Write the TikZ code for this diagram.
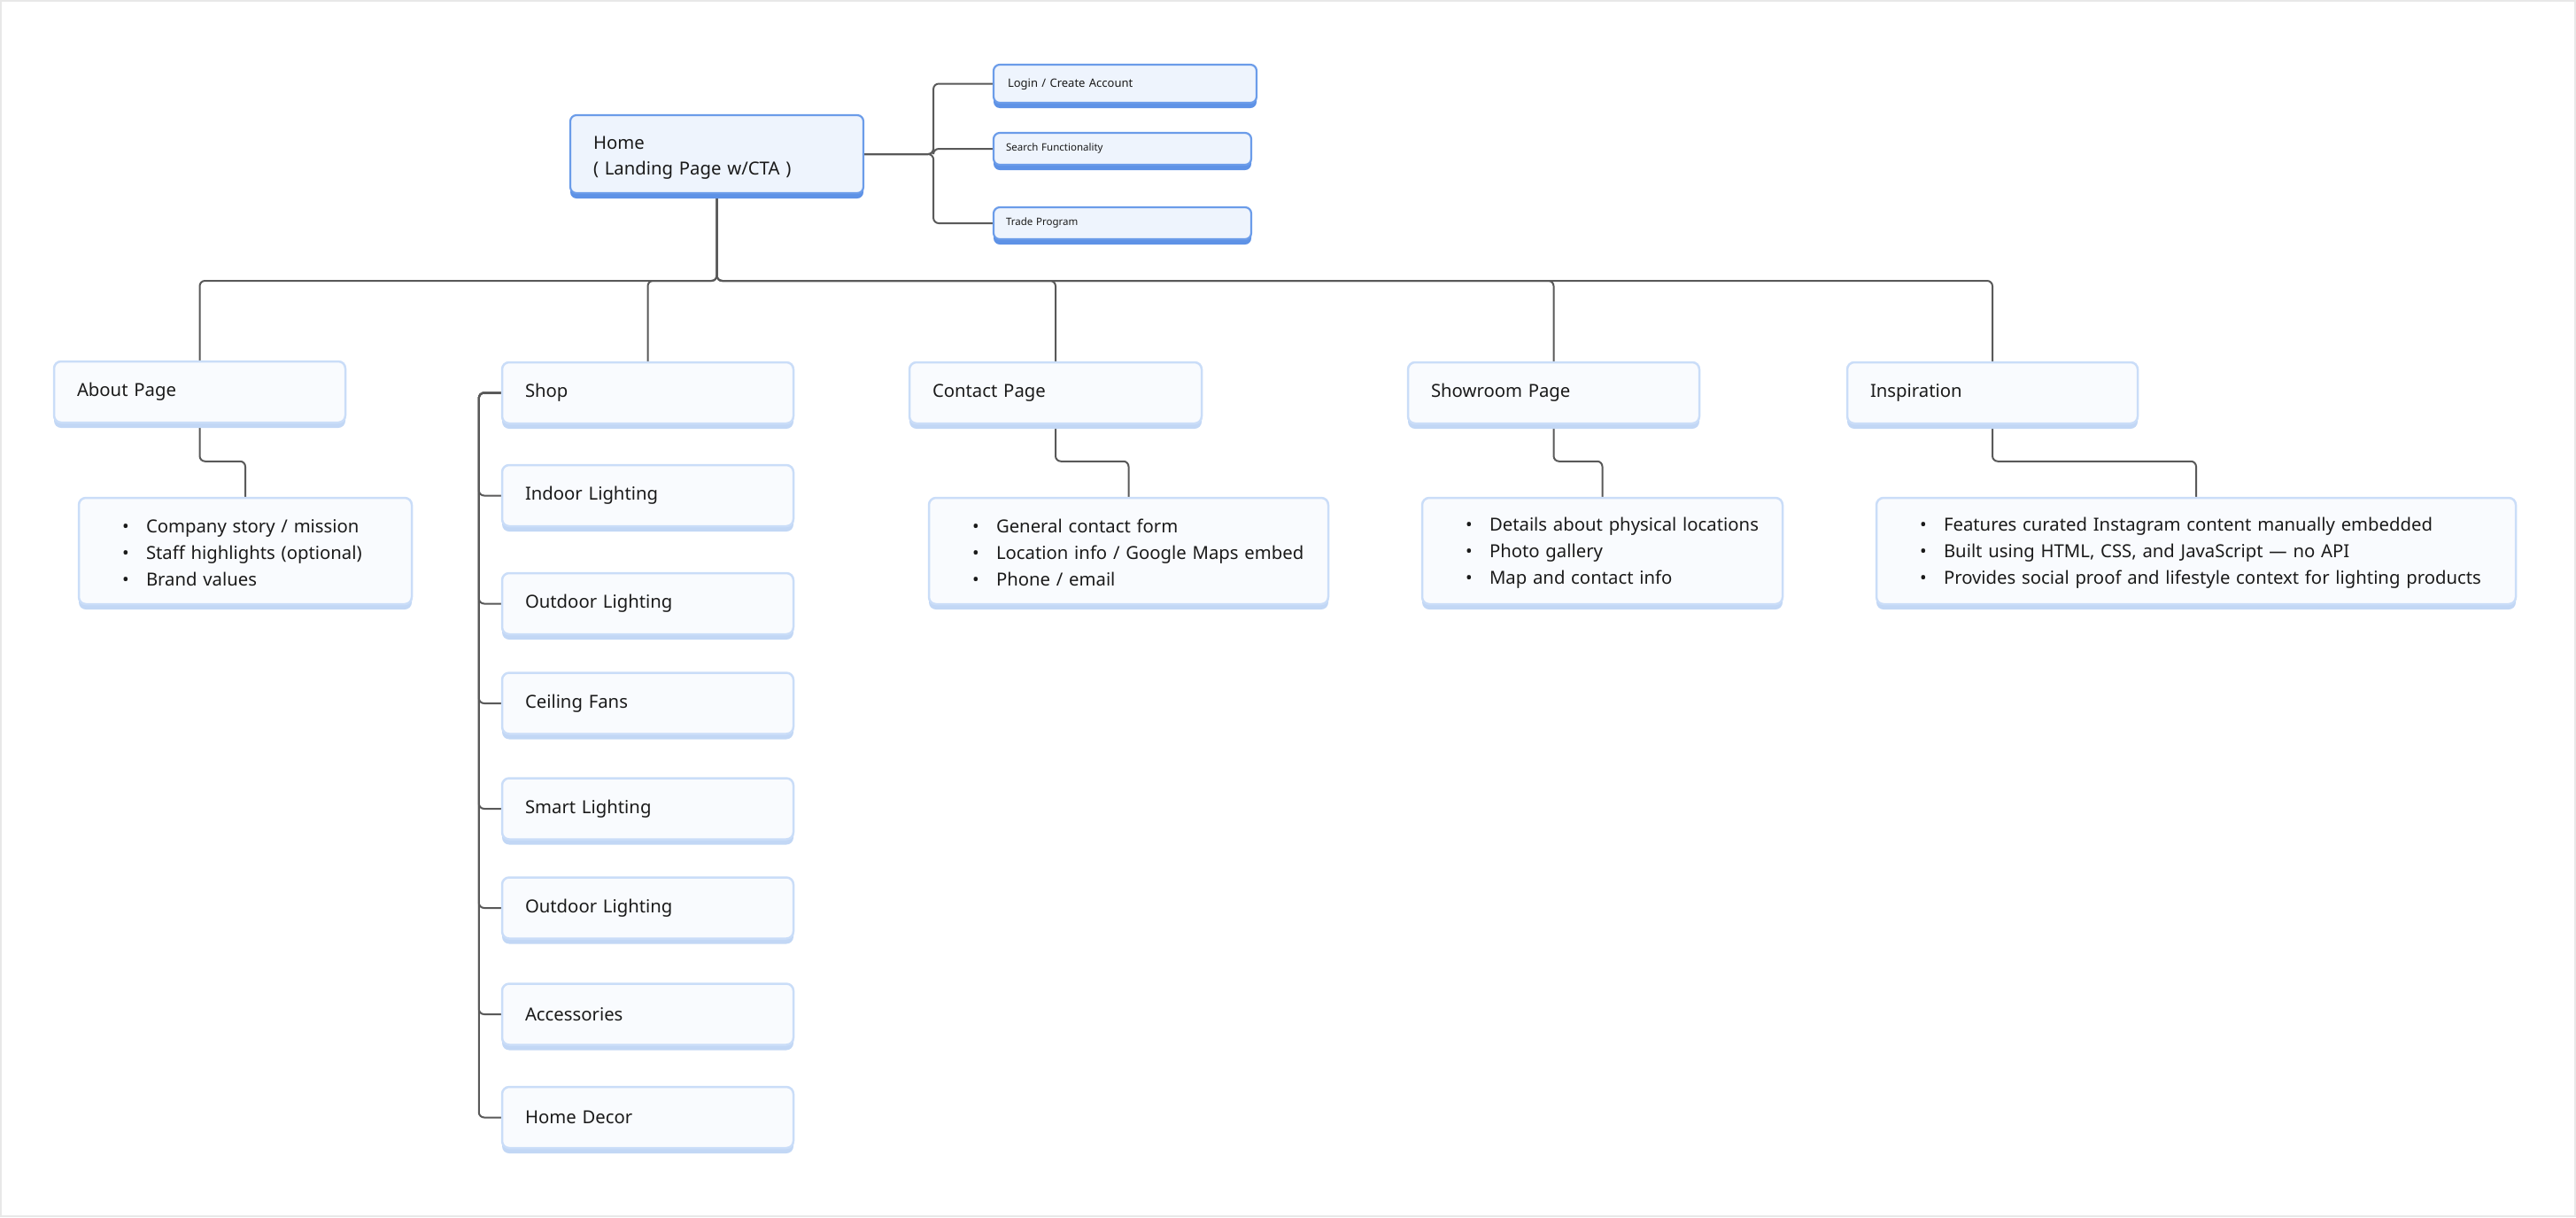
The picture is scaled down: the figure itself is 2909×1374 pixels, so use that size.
\documentclass[tikz,border=0pt]{standalone}
\usepackage{fontspec}
\setmainfont{Noto Sans}
\usetikzlibrary{shadows,calc}
\definecolor{lfill}{HTML}{F9FBFE}
\definecolor{lborder}{HTML}{CADDF8}
\definecolor{lband}{HTML}{C2D7F5}
\definecolor{hfill}{HTML}{EEF4FD}
\definecolor{hborder}{HTML}{6B9CE9}
\definecolor{hband}{HTML}{5E92E6}
\definecolor{txt}{HTML}{1A1A1A}
\definecolor{connc}{HTML}{595959}
\definecolor{pageframe}{HTML}{E8E8E8}
\pgfdeclarelayer{bg}
\pgfsetlayers{bg,main}
\newcommand\bitem[1]{\mbox{\makebox[27pt][l]{•}#1}}
\begin{document}
\begin{tikzpicture}[x=1pt,y=-1pt,
  lbox/.style={draw=lborder, fill=lfill, line width=2.5pt, rounded corners=8pt,
    general shadow={fill=lband, shadow yshift=-6pt},
    inner xsep=26pt, inner ysep=0pt, align=left, text=txt,
    font=\fontsize{20.3pt}{28pt}\selectfont, minimum height=69pt},
  hbox/.style={draw=hborder, fill=hfill, line width=2.2pt, rounded corners=7pt,
    general shadow={fill=hband, shadow yshift=-6pt},
    inner ysep=0pt, align=left, text=txt},
  dbox/.style={lbox, inner xsep=49pt, minimum height=120pt,
    font=\fontsize{20.3pt}{30pt}\selectfont},
  conn/.style={draw=connc, line width=2pt, rounded corners=6pt}
]
\useasboundingbox (0,0) rectangle (2909,1374);
\draw[pageframe, line width=1.5pt] (1,1) rectangle (2908,1373);

% top
\node[hbox, inner xsep=26pt, minimum width=331pt, minimum height=88pt, text width=279pt,
  font=\fontsize{20.3pt}{29pt}\selectfont] (home) at (809.5,174) {\rule{0pt}{23pt}Home\\( Landing Page w/CTA )};
\node[hbox, inner xsep=16pt, minimum width=297pt, minimum height=43pt, text width=265pt,
  font=\fontsize{13pt}{16pt}\selectfont] (login) at (1270.5,94.5) {\rule{0pt}{11pt}Login / Create Account};
\node[hbox, inner xsep=14pt, minimum width=291pt, minimum height=36pt, text width=263pt,
  font=\fontsize{11.5pt}{14pt}\selectfont] (search) at (1267.5,168) {Search Functionality};
\node[hbox, inner xsep=14pt, minimum width=291pt, minimum height=36pt, text width=263pt,
  font=\fontsize{11.5pt}{14pt}\selectfont] (trade) at (1267.5,252) {Trade Program};

% level 1
\node[lbox, minimum width=329pt, text width=277pt] (about) at (225.5,442.5) {About Page};
\node[lbox, minimum width=329pt, text width=277pt] (shop) at (731.5,443.5) {Shop};
\node[lbox, minimum width=330pt, text width=278pt] (contact) at (1192,443.5) {Contact Page};
\node[lbox, minimum width=329pt, text width=277pt] (showroom) at (1754.5,443.5) {Showroom Page};
\node[lbox, minimum width=328pt, text width=276pt] (insp) at (2250,443.5) {Inspiration};

% details
\node[dbox, minimum width=376pt, text width=278pt] (aboutd) at (277,622)
  {\rule{0pt}{20pt}\bitem{Company story / mission}\\\bitem{Staff highlights (optional)}\\\bitem{Brand values}};
\node[dbox, minimum width=451pt, text width=353pt] (contactd) at (1274.5,622)
  {\rule{0pt}{20pt}\bitem{General contact form}\\\bitem{Location info / Google Maps embed}\\\bitem{Phone / email}};
\node[dbox, minimum width=407pt, text width=309pt] (showroomd) at (1809.5,622)
  {\rule{0pt}{20pt}\bitem{Details about physical locations}\\\bitem{Photo gallery}\\\bitem{Map and contact info}};
\node[dbox, minimum width=722pt, text width=624pt] (inspd) at (2480,622)
  {\rule{0pt}{20pt}\bitem{Features curated Instagram content manually embedded}\\\bitem{Built using HTML, CSS, and JavaScript — no API}\\\bitem{Provides social proof and lifestyle context for lighting products}};

% shop children
\node[lbox, minimum width=329pt, text width=277pt] (indoor) at (731.5,559.5) {Indoor Lighting};
\node[lbox, minimum width=329pt, text width=277pt] (outdoor) at (731.5,681.5) {Outdoor Lighting};
\node[lbox, minimum width=329pt, text width=277pt] (ceiling) at (731.5,794) {Ceiling Fans};
\node[lbox, minimum width=329pt, text width=277pt] (smart) at (731.5,913) {Smart Lighting};
\node[lbox, minimum width=329pt, text width=277pt] (outdoorb) at (731.5,1025) {Outdoor Lighting};
\node[lbox, minimum width=329pt, text width=277pt] (access) at (731.5,1145) {Accessories};
\node[lbox, minimum width=329pt, text width=277pt] (decor) at (731.5,1261.5) {Home Decor};

\coordinate (bus) at (0,317);

\begin{pgfonlayer}{bg}
\foreach \c in {about,shop,contact,showroom,insp}
  \draw[conn] (home.south) |- (bus -| \c.north) -- (\c.north);
\foreach \c in {login,search,trade}
  \draw[conn] (home.east) -- ++(78,0) |- (\c.west);
\draw[conn] (about.south) |- ($(aboutd.north)+(0,-40)$) -- (aboutd.north);
\draw[conn] (contact.south) |- ($(contactd.north)+(0,-40)$) -- (contactd.north);
\draw[conn] (showroom.south) |- ($(showroomd.north)+(0,-40)$) -- (showroomd.north);
\draw[conn] (insp.south) |- ($(inspd.north)+(0,-40)$) -- (inspd.north);
\foreach \c in {indoor,outdoor,ceiling,smart,outdoorb,access,decor}
  \draw[conn] (shop.west) -- ++(-25,0) |- (\c.west);
\end{pgfonlayer}
\end{tikzpicture}
\end{document}
